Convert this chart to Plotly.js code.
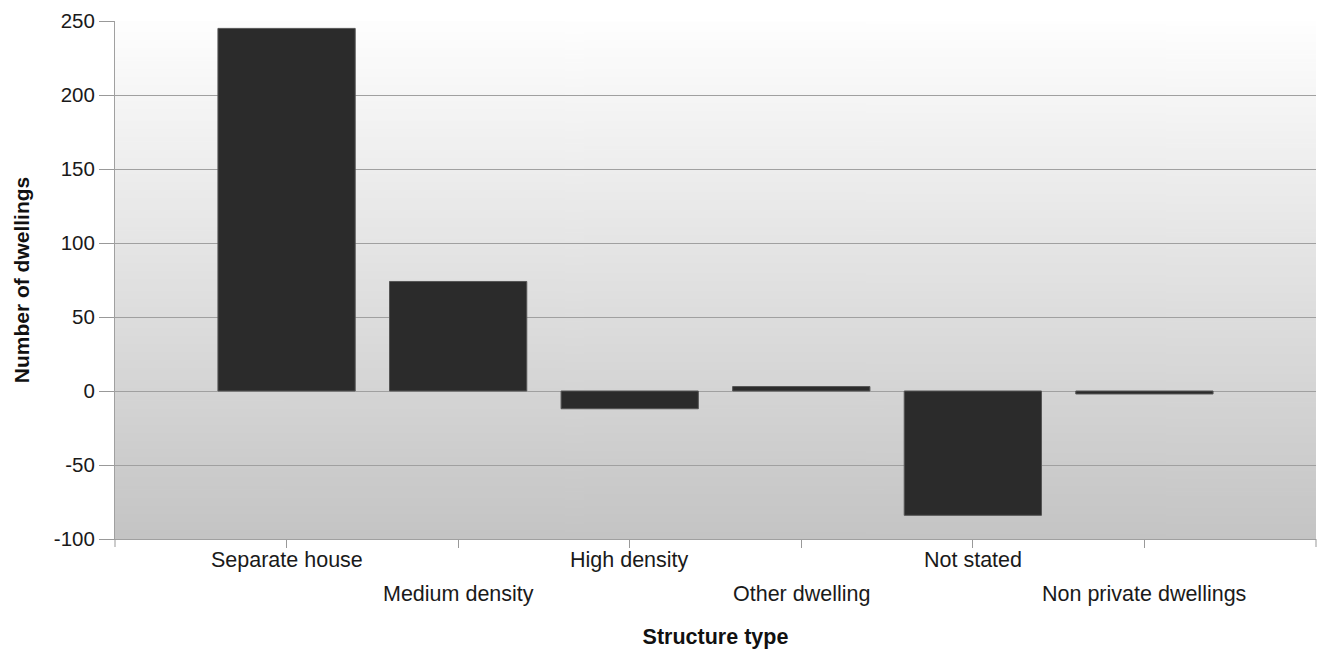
<!DOCTYPE html>
<html>
<head>
<meta charset="utf-8">
<script src="https://cdn.plot.ly/plotly-3.0.1.min.js"></script>
<style>
html,body{margin:0;padding:0;background:#fff;}
#chart{width:1326px;height:649px;}
</style>
</head>
<body>
<div id="chart"></div>
<script>
var categories = ["Separate house", "Medium density", "High density", "Other dwelling", "Not stated", "Non private dwellings"];
var dwellings = [245, 74, -12, 3, -84, -2];
var yTickVals = [-100, -50, 0, 50, 100, 150, 200, 250];
var xTitle = "Structure type";
var yTitle = "Number of dwellings";

// gradient background for the plot area
var cv = document.createElement("canvas");
cv.width = 4; cv.height = 256;
var ctx = cv.getContext("2d");
var g = ctx.createLinearGradient(0, 0, 0, 256);
g.addColorStop(0, "#fefefe");
g.addColorStop(1, "#c4c4c4");
ctx.fillStyle = g;
ctx.fillRect(0, 0, 4, 256);
var bgURI = cv.toDataURL("image/png");

var FONT = "Liberation Sans, Arial, sans-serif";

var annotations = categories.map(function (c, i) {
  return {
    x: c, xref: "x", y: 0, yref: "paper",
    text: c, showarrow: false,
    xanchor: "center", yanchor: "middle",
    yshift: (i % 2 === 0) ? -21 : -55,
    font: {family: FONT, size: 21.5, color: "#1a1a1a"}
  };
});

var trace = {
  type: "bar",
  x: categories,
  y: dwellings,
  width: 0.8,
  marker: {color: "#2b2b2b", line: {color: "#555555", width: 1}},
  hoverinfo: "x+y"
};

var layout = {
  width: 1326, height: 649,
  margin: {l: 115, r: 10, t: 21, b: 110},
  paper_bgcolor: "#ffffff",
  plot_bgcolor: "rgba(0,0,0,0)",
  showlegend: false,
  font: {family: FONT, color: "#1a1a1a"},
  images: [{
    source: bgURI, xref: "paper", yref: "paper",
    x: 0, y: 1, sizex: 1, sizey: 1, sizing: "stretch",
    xanchor: "left", yanchor: "top", layer: "below"
  }],
  xaxis: {
    type: "category",
    range: [-1, 6],
    showgrid: false,
    showticklabels: false,
    ticks: "outside", ticklen: 8, tickcolor: "#999999", tickwidth: 1,
    showline: true, linecolor: "#a0a0a0", linewidth: 1,
    zeroline: false,
    title: {text: xTitle, standoff: 85, font: {family: FONT, size: 21.5, color: "#111111", weight: "bold"}}
  },
  yaxis: {
    range: [-100, 250],
    tickmode: "array",
    tickvals: yTickVals,
    ticktext: yTickVals.map(function (v) { return String(v); }),
    ticks: "outside", ticklen: 15, tickcolor: "#999999", tickwidth: 1,
    showgrid: true, gridcolor: "#a0a0a0", gridwidth: 1,
    zeroline: true, zerolinecolor: "#a0a0a0", zerolinewidth: 1,
    showline: true, linecolor: "#a0a0a0", linewidth: 1,
    tickfont: {family: FONT, size: 20.5, color: "#1a1a1a"},
    title: {text: yTitle, standoff: 18, font: {family: FONT, size: 21, color: "#111111", weight: "bold"}}
  },
  shapes: [
    {type: "line", xref: "paper", yref: "paper", x0: 0, x1: 0, ysizemode: "pixel", yanchor: 0, y0: 0, y1: -8, line: {color: "#999999", width: 1}},
    {type: "line", xref: "paper", yref: "paper", x0: 1, x1: 1, ysizemode: "pixel", yanchor: 0, y0: 0, y1: -8, line: {color: "#999999", width: 1}}
  ],
  annotations: annotations,
  bargap: 0.2
};

Plotly.newPlot("chart", [trace], layout, {displayModeBar: false, staticPlot: true});
</script>
</body>
</html>
